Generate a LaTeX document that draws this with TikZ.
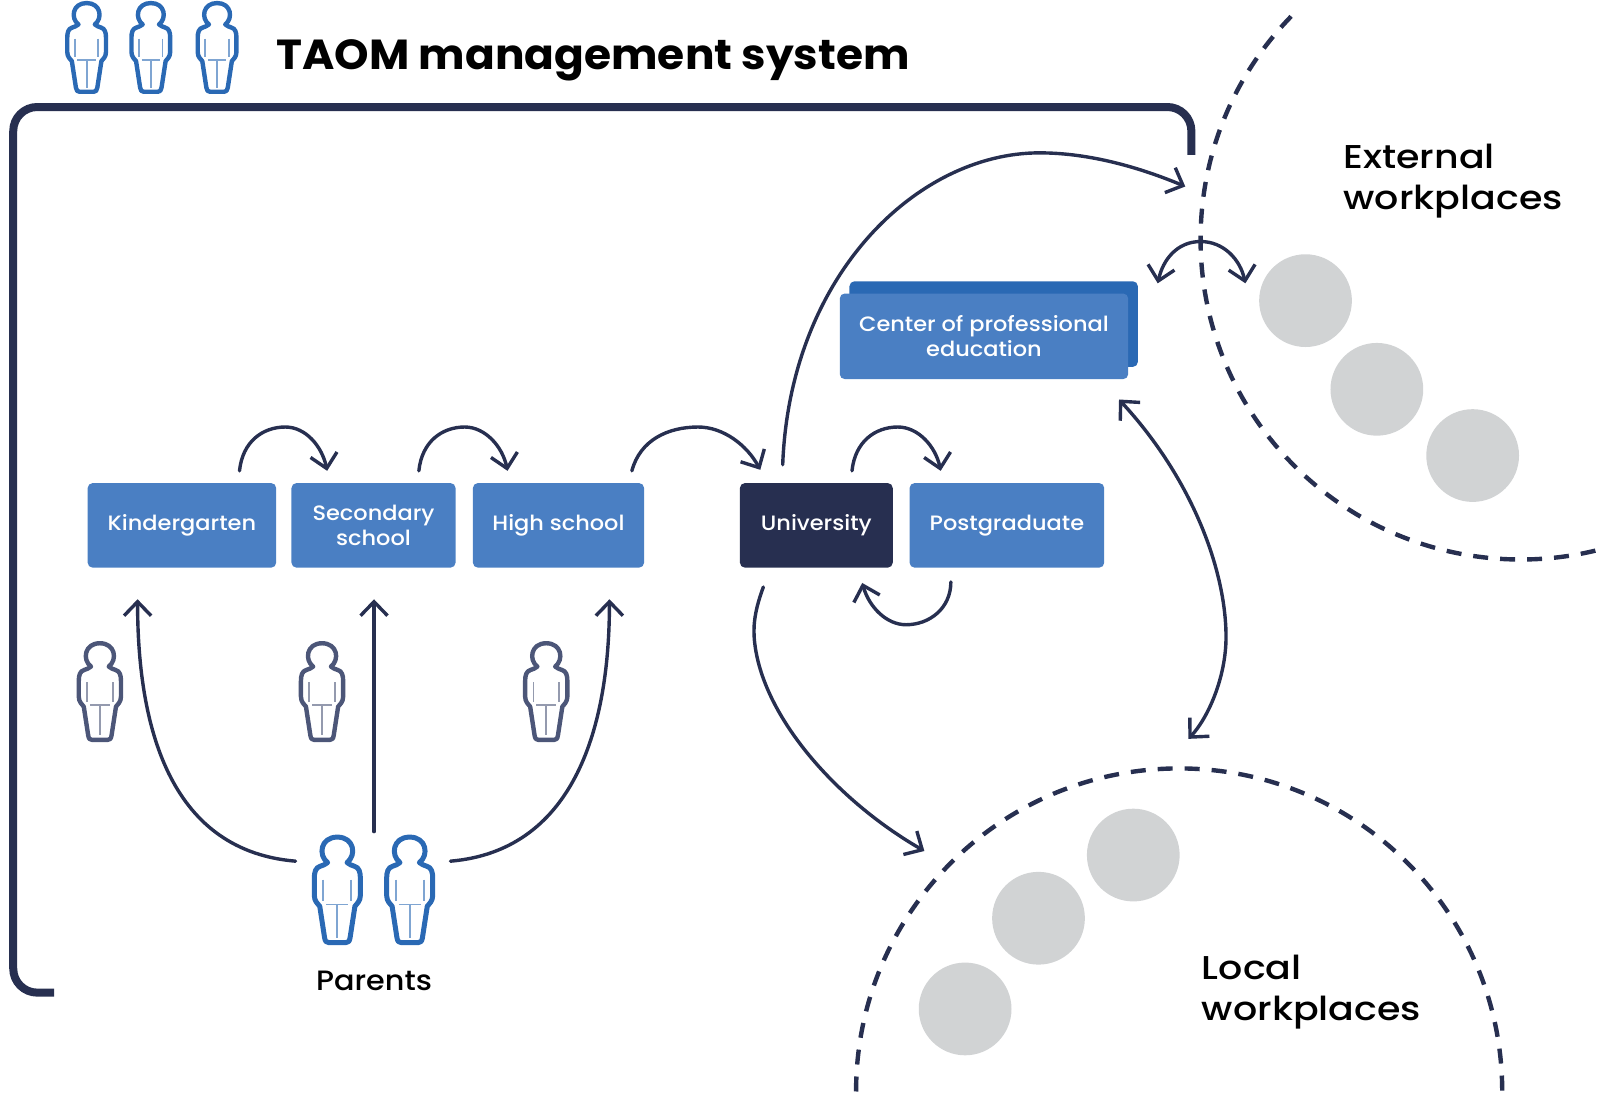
\documentclass[tikz,border=0pt]{standalone}
\usepackage{fontspec}
\setmainfont{Poppins}[FakeStretch=1.08,UprightFont=* Medium,BoldFont=* Bold]
\newfontfamily\titlefont{Poppins}[FakeStretch=1.045,UprightFont=* Bold]
\newfontfamily\labelfont{Poppins}[FakeStretch=1.15,UprightFont=* Medium]
\usetikzlibrary{arrows.meta}
\definecolor{navy}{HTML}{272F50}
\definecolor{boxblue}{HTML}{4A7FC3}
\definecolor{backblue}{HTML}{2A69B4}
\definecolor{greyman}{HTML}{4C5678}
\definecolor{disc}{HTML}{D1D3D4}
\def\u{0.5095pt}
\tikzset{
  stagebox/.style={fill=boxblue,text=white,rounded corners=2.5pt,minimum height=83*\u,inner sep=0pt,align=center,font=\fontsize{10.4}{12.4}\selectfont},
  conn/.style={draw=navy,line width=1.7pt,line cap=round},
  tip/.style={-{Straight Barb[length=7pt,width=13.5pt,line width=1.7pt]}},
  bitip/.style={{Straight Barb[length=7pt,width=13.5pt,line width=1.7pt]}-{Straight Barb[length=7pt,width=13.5pt,line width=1.7pt]}},
  dashline/.style={draw=navy,line width=2.2pt,dash pattern=on 7.5pt off 6pt},
  discnode/.style={circle,fill=disc,minimum size=91*\u,inner sep=0pt},
  label/.style={text=black,align=left,inner sep=0pt,font=\labelfont\fontsize{16.5}{20.5}\selectfont},
  person/.pic={
    \path[pic actions,line join=round,fill=none]
      (-8,23) .. controls (-16,17) and (-14,2) .. (0,2)
      .. controls (14,2) and (16,17) .. (8,23)
      .. controls (10,25) and (12,25) .. (14,26)
      .. controls (18,27) and (19,31) .. (19,36) -- (19,50)
      .. controls (19,55) and (16,57) .. (14.5,59) -- (10.5,85)
      .. controls (10,88) and (9,89) .. (7,89) -- (-7,89)
      .. controls (-9,89) and (-10,88) .. (-10.5,85) -- (-14.5,59)
      .. controls (-16,57) and (-19,55) .. (-19,50) -- (-19,36)
      .. controls (-19,31) and (-18,27) .. (-14,26)
      .. controls (-12,25) and (-10,25) .. (-8,23) -- cycle;
    \path[pic actions,line width=.9pt,opacity=.6,fill=none]
      (-11.5,37) -- (-11.5,55) (11.5,37) -- (11.5,55)
      (-9,57.5) -- (9,57.5) (0,57.5) -- (0,85);
  }
}
\begin{document}
\begin{tikzpicture}[x=\u,y=-\u]
\useasboundingbox (0,0) rectangle (1568,1072.5);

% workplace regions
\draw[dashline] (1492,235) ++(224.2:314) arc[start angle=224.2,end angle=69,radius=314];
\draw[dashline] (840,1071) arc[start angle=180,end angle=360,radius=317];
\node[discnode] (e1) at (1281,295) {};
\node[discnode] (e2) at (1351,382) {};
\node[discnode] (e3) at (1445,447) {};
\node[discnode] (l1) at (1112,839) {};
\node[discnode] (l2) at (1019,901) {};
\node[discnode] (l3) at (947,990) {};

% management frame
\coordinate (fa) at (53,974);
\coordinate (fb) at (13,974);
\coordinate (fc) at (13,105);
\coordinate (fd) at (1169,105);
\coordinate (fe) at (1169,152);
\draw[navy,line width=4pt,rounded corners=12pt] (fa) -- (fb) -- (fc) -- (fd) -- (fe);

% staff and title
\pic[draw=backblue,line width=2.2pt] at (85,1) {person};
\pic[draw=backblue,line width=2.2pt] at (148,1) {person};
\pic[draw=backblue,line width=2.2pt] at (213,1) {person};
\node[anchor=west,inner sep=0pt,font=\titlefont\fontsize{21}{25}\selectfont] (title) at (271,59) {TAOM management system};

% stages
\node[stagebox,minimum width=185*\u] (kg) at (178.5,515.5) {\raisebox{-.5pt}{Kindergarten}};
\node[stagebox,minimum width=161*\u] (sec) at (366.5,515.5) {Secondary\\school};
\node[stagebox,minimum width=168*\u] (high) at (548,515.5) {\raisebox{-.5pt}{High school}};
\node[stagebox,minimum width=150*\u,fill=navy] (uni) at (801,515.5) {\raisebox{-.5pt}{University}};
\node[stagebox,minimum width=191*\u] (post) at (988,515.5) {\raisebox{-.5pt}{Postgraduate}};
\node[fill=backblue,rounded corners=2.5pt,minimum width=283*\u,minimum height=84*\u,inner sep=0pt] (cback) at (975,318) {};
\node[stagebox,minimum width=283*\u,minimum height=84*\u] (center) at (965.5,330) {Center of professional\\education};

% people
\pic[draw=greyman,line width=2.2pt,scale=1.09] at (98,629) {person};
\pic[draw=greyman,line width=2.2pt,scale=1.09] at (316,629) {person};
\pic[draw=greyman,line width=2.2pt,scale=1.09] at (536,629) {person};
\pic[draw=backblue,line width=2.5pt,scale=1.19] at (331,819) {person};
\pic[draw=backblue,line width=2.5pt,scale=1.19] at (402,819) {person};
\node[inner sep=0pt,font=\fontsize{14}{17}\selectfont] (parents) at (367,962) {Parents};
\node[label,anchor=west] (ext) at (1318,178) {External\\workplaces};
\node[label,anchor=west] (loc) at (1179,973) {Local\\workplaces};

% connector ends
\coordinate (a1) at (235,462); \coordinate (a2) at (321,462);
\coordinate (b1) at (411,462); \coordinate (b2) at (498,462);
\coordinate (c1) at (620,462); \coordinate (c2) at (746,461);
\coordinate (d1) at (836,462); \coordinate (d2) at (923,462);
\coordinate (g1) at (933,571); \coordinate (g2) at (846,572);
\coordinate (h1) at (768,456); \coordinate (h2) at (1020,150); \coordinate (h3) at (1163,183);
\coordinate (i1) at (1136,278); \coordinate (i2) at (1222,278);
\coordinate (j1) at (1098,392); \coordinate (j2) at (1203,625); \coordinate (j3) at (1166,725);
\coordinate (k1) at (749,576); \coordinate (k2) at (907,835);
\coordinate (p1) at (290,845); \coordinate (p2) at (135,588);
\coordinate (q1) at (367,816); \coordinate (q2) at (367,588);
\coordinate (r1) at (442,845); \coordinate (r2) at (598,588);

\draw[conn,tip] (a1) .. controls (238,433) and (258,419) .. (280,419) .. controls (300,419) and (316,438) .. (a2);
\draw[conn,tip] (b1) .. controls (414,433) and (434,419) .. (456,419) .. controls (476,419) and (493,438) .. (b2);
\draw[conn,tip] (c1) .. controls (628,432) and (655,419) .. (685,419) .. controls (710,419) and (733,437) .. (c2);
\draw[conn,tip] (d1) .. controls (839,433) and (859,419) .. (881,419) .. controls (901,419) and (918,438) .. (d2);
\draw[conn,tip] (g1) .. controls (933,597) and (912,613) .. (889,613) .. controls (870,613) and (853,596) .. (g2);
\draw[conn,tip] (h1) .. controls (775,270) and (900,150) .. (h2) .. controls (1070,150) and (1120,165) .. (h3);
\draw[conn,bitip] (i1) .. controls (1141,255) and (1155,237) .. (1178,237) .. controls (1201,237) and (1217,255) .. (i2);
\draw[conn,bitip] (j1) .. controls (1170,470) and (1203,560) .. (j2) .. controls (1203,665) and (1185,705) .. (j3);
\draw[conn,tip] (k1) .. controls (742,595) and (739,610) .. (740,625) .. controls (745,700) and (820,785) .. (k2);
\draw[conn,tip] (p1) .. controls (170,835) and (135,720) .. (p2);
\draw[conn,tip] (q1) -- (q2);
\draw[conn,tip] (r1) .. controls (560,835) and (598,720) .. (r2);
\end{tikzpicture}
\end{document}
